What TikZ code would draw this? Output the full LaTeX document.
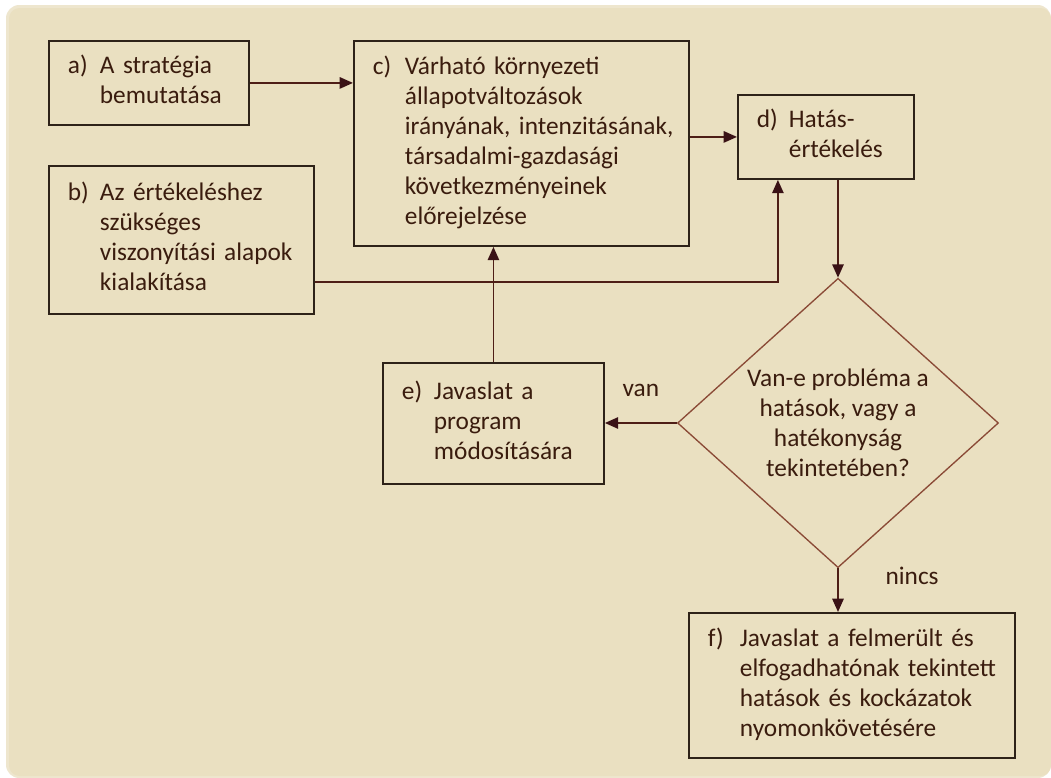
\documentclass[tikz,border=0pt]{standalone}
\usepackage{fontspec}
\setmainfont{Carlito}
\usepackage{tikz}
\usetikzlibrary{shapes.geometric, arrows.meta, positioning, calc}
\definecolor{panelbg}{HTML}{EAE0C1}
\definecolor{boxline}{HTML}{2E2218}
\definecolor{flowline}{HTML}{4E1E16}
\definecolor{headcol}{HTML}{3A1216}
\definecolor{diamline}{HTML}{8A4A36}
\definecolor{txtbrown}{HTML}{3A1C0E}

\newcommand{\steptext}[2]{\makebox[24pt][l]{#1}\begin{tabular}[t]{@{}l@{}}#2\end{tabular}}

\begin{document}
\begin{tikzpicture}[
    x=0.75pt, y=-0.75pt,
    every node/.style={font=\fontsize{19}{22.5}\selectfont, text=txtbrown},
    stepbox/.style={rectangle, draw=boxline, line width=1.4pt, anchor=north west, align=left, inner xsep=14.25pt, inner ysep=0pt},
    decision/.style={diamond, draw=diamline, line width=1pt, align=center, inner sep=0pt, minimum width=240.75pt, minimum height=213.75pt},
    arrow/.style={-{Triangle[length=10pt, width=8.5pt, color=headcol]}, draw=flowline, line width=1.4pt}
]
\useasboundingbox (0,0) rectangle (1051,778);
\fill[white] (0,0) rectangle (1051,778);
\fill[panelbg!80!white, rounded corners=10pt] (6,5) rectangle (1051,778);
\fill[panelbg, rounded corners=8pt] (9,8) rectangle (1051,776);

\node[stepbox, text width=121.5pt, minimum height=63pt] (a) at (48,40) {\steptext{a)}{A stratégia\\bemutatása}};
\node[stepbox, text width=170.25pt, minimum height=111pt] (b) at (48,165) {\steptext{b)}{Az értékeléshez\\szükséges\\viszonyítási alapok\\kialakítása}};
\node[stepbox, text width=222.75pt, minimum height=153.75pt] (c) at (353,40) {\steptext{c)}{Várható környezeti\\állapotváltozások\\irányának, intenzitásának,\\társadalmi-gazdasági\\következményeinek\\előrejelzése}};
\node[stepbox, text width=103.5pt, minimum height=63pt] (d) at (737,94) {\steptext{d)}{Hatás-\\értékelés}};
\node[decision] (q) at (838,423) {Van-e probléma a\\hatások, vagy a\\hatékonyság\\tekintetében?};
\node[stepbox, text width=137.25pt, minimum height=90.75pt] (e) at (382,362) {\steptext{e)}{Javaslat a\\program\\módosítására}};
\node[stepbox, text width=216pt, minimum height=108.75pt] (f) at (688,612) {\steptext{f)}{Javaslat a felmerült és\\elfogadhatónak tekintett\\hatások és kockázatok\\nyomonkövetésére}};

\coordinate (bout) at ($(b.south east)!0.22!(b.north east)$);
\coordinate (din) at ($(d.south west)!0.23!(d.south east)$);

\draw[arrow] (a.east) -- (a.east -| c.west);
\draw[arrow] (d.west -| c.east) -- (d.west);
\draw[arrow] (bout) -| (din);
\draw[arrow] (d.south -| q.north) -- (q.north);
\draw[arrow] (q.west) -- node[above=18.75pt, inner sep=0pt] {van} (q.west -| e.east);
\draw[arrow] (e.north) -- (e.north |- c.south);
\draw[arrow] (q.south) -- node[pos=0.38, anchor=base west, xshift=35pt, inner sep=0pt] {nincs} (q.south |- f.north);

\end{tikzpicture}
\end{document}
